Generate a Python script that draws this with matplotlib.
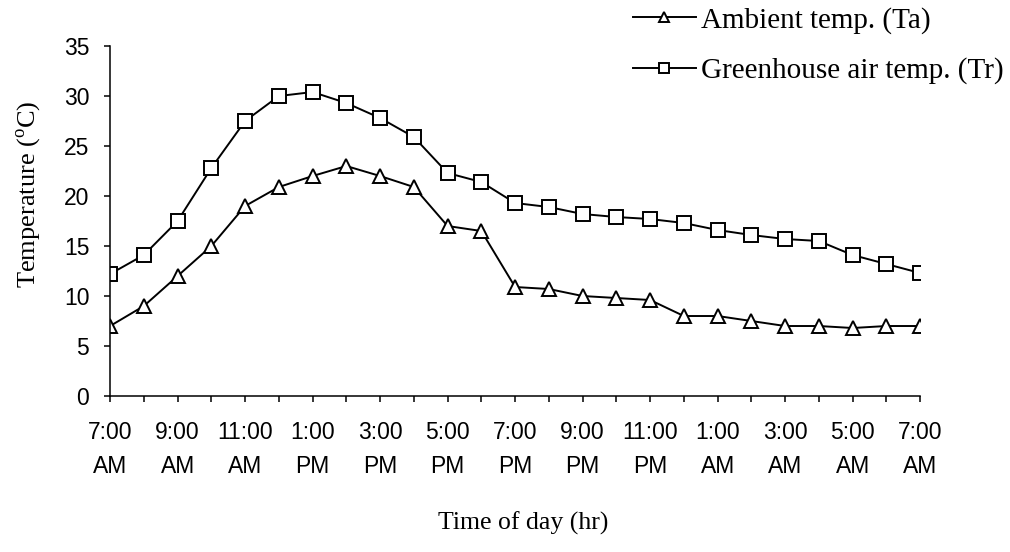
import matplotlib
matplotlib.use("Agg")
import matplotlib.pyplot as plt

# hourly readings, 7:00 AM to 7:00 AM next day
hours = list(range(25))
ambient_temp = [7.0, 9.0, 12.0, 15.0, 19.0, 20.9, 22.0, 23.0, 22.0, 20.9, 17.0, 16.5, 10.9,
                10.7, 10.0, 9.8, 9.6, 8.0, 8.0, 7.5, 7.0, 7.0, 6.8, 7.0, 7.0]
greenhouse_temp = [12.2, 14.1, 17.5, 22.8, 27.5, 30.0, 30.4, 29.3, 27.8, 25.9, 22.3, 21.4, 19.3,
                   18.9, 18.2, 17.9, 17.7, 17.3, 16.6, 16.1, 15.7, 15.5, 14.1, 13.2, 12.3]
tick_labels = ["7:00\nAM", "9:00\nAM", "11:00\nAM", "1:00\nPM", "3:00\nPM", "5:00\nPM", "7:00\nPM",
               "9:00\nPM", "11:00\nPM", "1:00\nAM", "3:00\nAM", "5:00\nAM", "7:00\nAM"]
y_ticks = [0, 5, 10, 15, 20, 25, 30, 35]

serif = ["Liberation Serif", "DejaVu Serif"]
sans = ["Liberation Sans", "DejaVu Sans"]
plt.rcParams["mathtext.fontset"] = "custom"
plt.rcParams["mathtext.rm"] = "Liberation Serif"

fig = plt.figure(figsize=(10.1, 5.52), dpi=100)
ax = fig.add_axes([0.109, 0.2826, 0.802, 0.634])

line_kw = dict(color="black", linewidth=1.4, markersize=10, markeredgewidth=1.4,
               markerfacecolor="white", markeredgecolor="black")
ax.plot(hours, ambient_temp, marker="^", label="Ambient temp. (Ta)", **line_kw)
ax.plot(hours, greenhouse_temp, marker="s", label="Greenhouse air temp. (Tr)", **line_kw)

ax.set_xlim(0, 24)
ax.set_ylim(0, 35)
ax.set_xticks(hours)
labels = []
for i in hours:
    labels.append(tick_labels[i // 2] if i % 2 == 0 else "")
ax.set_xticklabels(labels, family=sans, fontsize=16.5, linespacing=1.6)
ax.set_yticks(y_ticks)
ax.set_yticklabels([str(v) for v in y_ticks], family=sans, fontsize=16.5)

for side in ["top", "right"]:
    ax.spines[side].set_visible(False)
for side in ["left", "bottom"]:
    ax.spines[side].set_linewidth(1.1)
ax.tick_params(direction="out", length=4, width=1.1)
ax.tick_params(axis="y", pad=11)
ax.tick_params(axis="x", pad=14)
ax.spines["bottom"].set_bounds(0, 24)

ax.set_xlabel("Time of day (hr)", family=serif, fontsize=18.5, va="top")
ax.xaxis.set_label_coords(0.51, -0.33)
ax.set_ylabel(r"Temperature ($^{\mathrm{o}}$C)", family=serif, fontsize=19)
ax.yaxis.set_label_coords(-0.083, 0.577)

fig.legend(loc="upper left", bbox_to_anchor=(630 / 1010, 1 - 4 / 552), frameon=False,
           prop={"family": serif, "size": 21}, handlelength=2.15, handletextpad=0.2,
           borderaxespad=0, borderpad=0.1, labelspacing=0.8, markerscale=0.7)

fig.savefig("out.png", dpi=100)
